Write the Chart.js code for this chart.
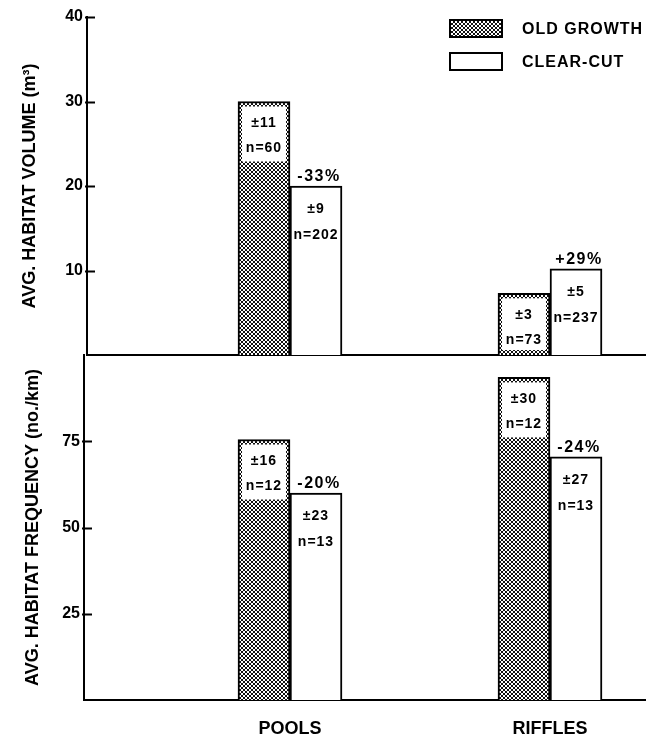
<!DOCTYPE html>
<html>
<head>
<meta charset="utf-8">
<script src="https://cdn.jsdelivr.net/npm/chart.js@4.4.1/dist/chart.umd.min.js"></script>
<style>
  html, body { margin: 0; padding: 0; background: #fff; }
  #wrap { position: relative; width: 662px; height: 750px; overflow: hidden; background: #fff; }
  canvas { position: absolute; left: 0; }
  #c1 { top: 0; }
  #c2 { top: 350px; }
</style>
</head>
<body>
<div id="wrap">
  <canvas id="c1" width="662" height="360"></canvas>
  <canvas id="c2" width="662" height="400"></canvas>
</div>
<script>
// ---------- data ----------
const categories = ['POOLS', 'RIFFLES'];
const seriesNames = ['OLD GROWTH', 'CLEAR-CUT'];

// top panel: average habitat volume (m³)
const volumeOld = [30, 7.3];
const volumeClear = [20, 10.2];
const volumeOldSD = [11, 3];
const volumeOldN = [60, 73];
const volumeClearSD = [9, 5];
const volumeClearN = [202, 237];
const volumeChange = ['-33%', '+29%'];
const volumeTicks = [10, 20, 30, 40];

// bottom panel: average habitat frequency (no./km)
const freqOld = [75.5, 93.5];
const freqClear = [60, 70.5];
const freqOldSD = [16, 30];
const freqOldN = [12, 12];
const freqClearSD = [23, 27];
const freqClearN = [13, 13];
const freqChange = ['-20%', '-24%'];
const freqTicks = [25, 50, 75];

// ---------- styling helpers ----------
const FONT = '"Liberation Sans", Arial, Helvetica, sans-serif';
Chart.defaults.font.family = FONT;
Chart.defaults.color = '#000';

function makeHatch() {
  const p = document.createElement('canvas');
  p.width = 4; p.height = 4;
  const g = p.getContext('2d');
  g.fillStyle = '#fff';
  g.fillRect(0, 0, 4, 4);
  g.fillStyle = '#111';
  for (let y = 0; y < 4; y++) {
    for (let x = 0; x < 4; x++) {
      if ((x - y + 4) % 4 === 0 || (x + y) % 4 === 3) g.fillRect(x, y, 1, 1);
    }
  }
  return g.createPattern(p, 'repeat');
}
const hatch = makeHatch();

const toPoints = vals => vals.map((v, i) => ({ x: i + 1, y: v }));

// annotations (±SD, n, % change) drawn on the bars the library placed
const barNotes = {
  id: 'barNotes',
  afterDatasetsDraw(chart, args, o) {
    const ctx = chart.ctx;
    const mOld = chart.getDatasetMeta(0);
    const mClr = chart.getDatasetMeta(1);
    ctx.save();
    ctx.textAlign = 'center';
    ctx.textBaseline = 'middle';
    try { ctx.letterSpacing = '1px'; } catch (e) {}
    mOld.data.forEach((bar, i) => {
      const { x, y, base, width } = bar.getProps(['x', 'y', 'base', 'width'], true);
      const l = x - width / 2 + 4, r = x + width / 2 - 4;
      const t = y + 5, b = Math.min(y + 60, base - 5);
      ctx.fillStyle = '#fff';
      ctx.fillRect(l, t, r - l, b - t);
      ctx.fillStyle = '#000';
      ctx.font = 'bold 14px ' + FONT;
      ctx.fillText('±' + o.oldSD[i], x, y + 22);
      ctx.fillText('n=' + o.oldN[i], x, y + 47);
    });
    mClr.data.forEach((bar, i) => {
      const { x, y } = bar.getProps(['x', 'y'], true);
      ctx.fillStyle = '#000';
      ctx.font = 'bold 14px ' + FONT;
      ctx.fillText('±' + o.clearSD[i], x, y + 23);
      ctx.fillText('n=' + o.clearN[i], x, y + 49);
      try { ctx.letterSpacing = '1.5px'; } catch (e) {}
      ctx.font = 'bold 16px ' + FONT;
      ctx.fillText(o.change[i], x + 3, y - 9);
      try { ctx.letterSpacing = '1px'; } catch (e) {}
    });
    ctx.restore();
  }
};

// short inward tick stubs on the value axis, placed by the scale
const axisStubs = {
  id: 'axisStubs',
  afterDraw(chart) {
    const s = chart.scales.y;
    const ctx = chart.ctx;
    ctx.save();
    ctx.strokeStyle = '#000';
    ctx.lineWidth = 2;
    s.ticks.forEach(t => {
      const y = Math.round(s.getPixelForValue(t.value)) + 0.5;
      ctx.beginPath();
      ctx.moveTo(s.right - 2, y);
      ctx.lineTo(s.right + 8, y);
      ctx.stroke();
    });
    ctx.restore();
  }
};

// legend in the upper right corner, built from the datasets
const refLegend = {
  id: 'refLegend',
  afterDraw(chart, args, o) {
    if (!o.show) return;
    const ctx = chart.ctx;
    ctx.save();
    chart.data.datasets.forEach((ds, i) => {
      const y = o.y + i * o.gap;
      ctx.fillStyle = ds.backgroundColor;
      ctx.fillRect(o.x, y, o.w, o.h);
      ctx.lineWidth = 2;
      ctx.strokeStyle = '#000';
      ctx.strokeRect(o.x, y, o.w, o.h);
      ctx.fillStyle = '#000';
      ctx.font = 'bold 16px ' + FONT;
      try { ctx.letterSpacing = '1px'; } catch (e) {}
      ctx.textAlign = 'left';
      ctx.textBaseline = 'middle';
      ctx.fillText(ds.label, o.x + o.w + 20, y + o.h / 2 + 1);
    });
    ctx.restore();
  }
};

function datasetsFor(oldVals, clearVals) {
  const common = { borderColor: '#000', borderWidth: 2, barThickness: 52, borderSkipped: 'start' };
  return [
    Object.assign({ label: seriesNames[0], data: toPoints(oldVals), backgroundColor: hatch }, common),
    Object.assign({ label: seriesNames[1], data: toPoints(clearVals), backgroundColor: '#fff' }, common)
  ];
}

function yScale(max, ticks, title, axisLeft, titlePad) {
  return {
    type: 'linear',
    position: 'left',
    min: 0,
    max: max,
    afterBuildTicks: s => { s.ticks = ticks.map(v => ({ value: v })); },
    afterFit: s => { s.width = axisLeft; s.paddingTop = 0; s.paddingBottom = 0; },
    ticks: { font: { size: 16, weight: 'bold' }, color: '#000', padding: 4 },
    grid: { display: false, drawTicks: false },
    border: { display: true, color: '#000', width: 2 },
    title: { display: true, text: title, color: '#000', font: { size: 18, weight: 'bold' }, padding: { top: titlePad, bottom: 0 } }
  };
}

function xScale(axisLeft, showLabels, height, labelPad) {
  const right = 645, p1 = 290, p2 = 550;
  const unit = p2 - p1;
  return {
    type: 'linear',
    position: 'bottom',
    offset: false,
    min: 1 - (p1 - axisLeft) / unit,
    max: 2 + (right - p2) / unit,
    afterBuildTicks: s => { s.ticks = categories.map((c, i) => ({ value: i + 1 })); },
    afterFit: s => { s.height = height; s.paddingLeft = 0; s.paddingRight = 0; },
    ticks: {
      display: showLabels,
      autoSkip: false,
      maxRotation: 0,
      padding: labelPad,
      font: { size: 18, weight: 'bold' },
      color: '#000',
      callback: v => categories[Math.round(v) - 1] || ''
    },
    grid: { display: false, drawTicks: false },
    border: { display: true, color: '#000', width: 2 }
  };
}

// ---------- top panel ----------
new Chart(document.getElementById('c1'), {
  type: 'bar',
  data: { datasets: datasetsFor(volumeOld, volumeClear) },
  options: {
    responsive: false,
    animation: false,
    layout: { padding: { top: 17, right: 17, bottom: 5, left: 0 } },
    scales: {
      x: xScale(87, false, 0, 0),
      y: yScale(40, volumeTicks, 'AVG. HABITAT VOLUME (m³)', 87, 19)
    },
    plugins: {
      legend: { display: false },
      tooltip: { enabled: false },
      barNotes: { oldSD: volumeOldSD, oldN: volumeOldN, clearSD: volumeClearSD, clearN: volumeClearN, change: volumeChange },
      refLegend: { show: true, x: 450, y: 20, w: 52, h: 17, gap: 33 }
    }
  },
  plugins: [barNotes, axisStubs, refLegend]
});

// ---------- bottom panel ----------
new Chart(document.getElementById('c2'), {
  type: 'bar',
  data: { datasets: datasetsFor(freqOld, freqClear) },
  options: {
    responsive: false,
    animation: false,
    layout: { padding: { top: 5, right: 17, bottom: 0, left: 0 } },
    scales: {
      x: xScale(84, true, 50, 18),
      y: yScale(100, freqTicks, 'AVG. HABITAT FREQUENCY (no./km)', 84, 22)
    },
    plugins: {
      legend: { display: false },
      tooltip: { enabled: false },
      barNotes: { oldSD: freqOldSD, oldN: freqOldN, clearSD: freqClearSD, clearN: freqClearN, change: freqChange },
      refLegend: { show: false }
    }
  },
  plugins: [barNotes, axisStubs, refLegend]
});
</script>
</body>
</html>
